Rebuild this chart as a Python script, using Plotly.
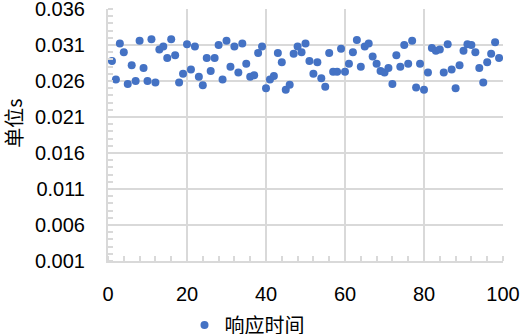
import plotly.graph_objects as go

series_name = "响应时间"
y_title = "单位s"
response_time = [
    0.0288, 0.0262, 0.0312, 0.0300, 0.0256, 0.0282, 0.0260, 0.0316, 0.0278, 0.0260,
    0.0318, 0.0258, 0.0304, 0.0308, 0.0292, 0.0318, 0.0296, 0.0258, 0.0270, 0.0311,
    0.0276, 0.0308, 0.0266, 0.0254, 0.0292, 0.0274, 0.0292, 0.0310, 0.0262, 0.0316,
    0.0280, 0.0308, 0.0272, 0.0312, 0.0284, 0.0266, 0.0268, 0.0299, 0.0308, 0.0250,
    0.0262, 0.0267, 0.0299, 0.0286, 0.0248, 0.0255, 0.0298, 0.0308, 0.0300, 0.0312,
    0.0288, 0.0270, 0.0286, 0.0264, 0.0252, 0.0299, 0.0273, 0.0273, 0.0305, 0.0273,
    0.0284, 0.0300, 0.0317, 0.0280, 0.0308, 0.0312, 0.0294, 0.0284, 0.0274, 0.0272,
    0.0278, 0.0256, 0.0296, 0.0280, 0.0310, 0.0284, 0.0316, 0.0251, 0.0284, 0.0248,
    0.0272, 0.0306, 0.0302, 0.0304, 0.0272, 0.0311, 0.0276, 0.0250, 0.0282, 0.0302,
    0.0311, 0.0310, 0.0300, 0.0278, 0.0258, 0.0286, 0.0298, 0.0314, 0.0292,
]
x_index = list(range(1, len(response_time) + 1))

font_family = "Liberation Sans, Arial, Noto Sans CJK SC, sans-serif"
cjk_family = "Noto Sans CJK SC, sans-serif"
grid_color = "#d9d9d9"
clear = "rgba(0,0,0,0)"

fig = go.Figure(
    go.Scatter(
        x=x_index,
        y=response_time,
        mode="markers",
        name=series_name,
        marker=dict(color="#4472C4", size=8),
    )
)

fig.update_layout(
    width=520,
    height=334,
    margin=dict(l=108, r=17, t=9, b=73, autoexpand=False),
    paper_bgcolor="white",
    plot_bgcolor="white",
    font=dict(family=font_family, size=20, color="#000000"),
    showlegend=True,
    legend=dict(
        orientation="h",
        x=0.475,
        xref="container",
        xanchor="center",
        y=0.027,
        yref="container",
        yanchor="middle",
        font=dict(size=20, family=cjk_family, color="#000000"),
        itemwidth=30,
        bgcolor=clear,
    ),
    annotations=[
        dict(
            text=y_title,
            xref="paper", yref="paper",
            x=-0.24, y=0.545,
            xanchor="center", yanchor="middle",
            textangle=-90,
            showarrow=False,
            font=dict(size=20, family=cjk_family, color="#000000"),
        )
    ],
)

fig.update_xaxes(
    range=[0, 100],
    tick0=0,
    dtick=20,
    automargin=False,
    ticklabeloverflow="allow",
    showgrid=True,
    gridcolor=grid_color,
    gridwidth=2,
    zeroline=False,
    showline=True,
    linecolor=grid_color,
    linewidth=2,
    ticks="outside",
    ticklen=14,
    tickcolor=clear,
    minor=dict(dtick=4, ticks="inside", ticklen=5, tickcolor=grid_color, tickwidth=1.5, showgrid=False),
    tickfont=dict(size=20),
)

fig.update_yaxes(
    range=[0.001, 0.03601],
    tick0=0.001,
    dtick=0.005,
    tickformat=".3f",
    automargin=False,
    ticklabeloverflow="allow",
    showgrid=True,
    gridcolor=grid_color,
    gridwidth=2,
    zeroline=False,
    showline=True,
    linecolor=grid_color,
    linewidth=2,
    ticks="outside",
    ticklen=17,
    tickcolor=clear,
    minor=dict(dtick=0.001, ticks="inside", ticklen=5, tickcolor=grid_color, tickwidth=1.5, showgrid=False),
    tickfont=dict(size=20),
)

fig.write_html(
    "out.html",
    config={"displayModeBar": False},
    post_script="document.body.style.margin='0';document.body.style.overflow='hidden';",
)
